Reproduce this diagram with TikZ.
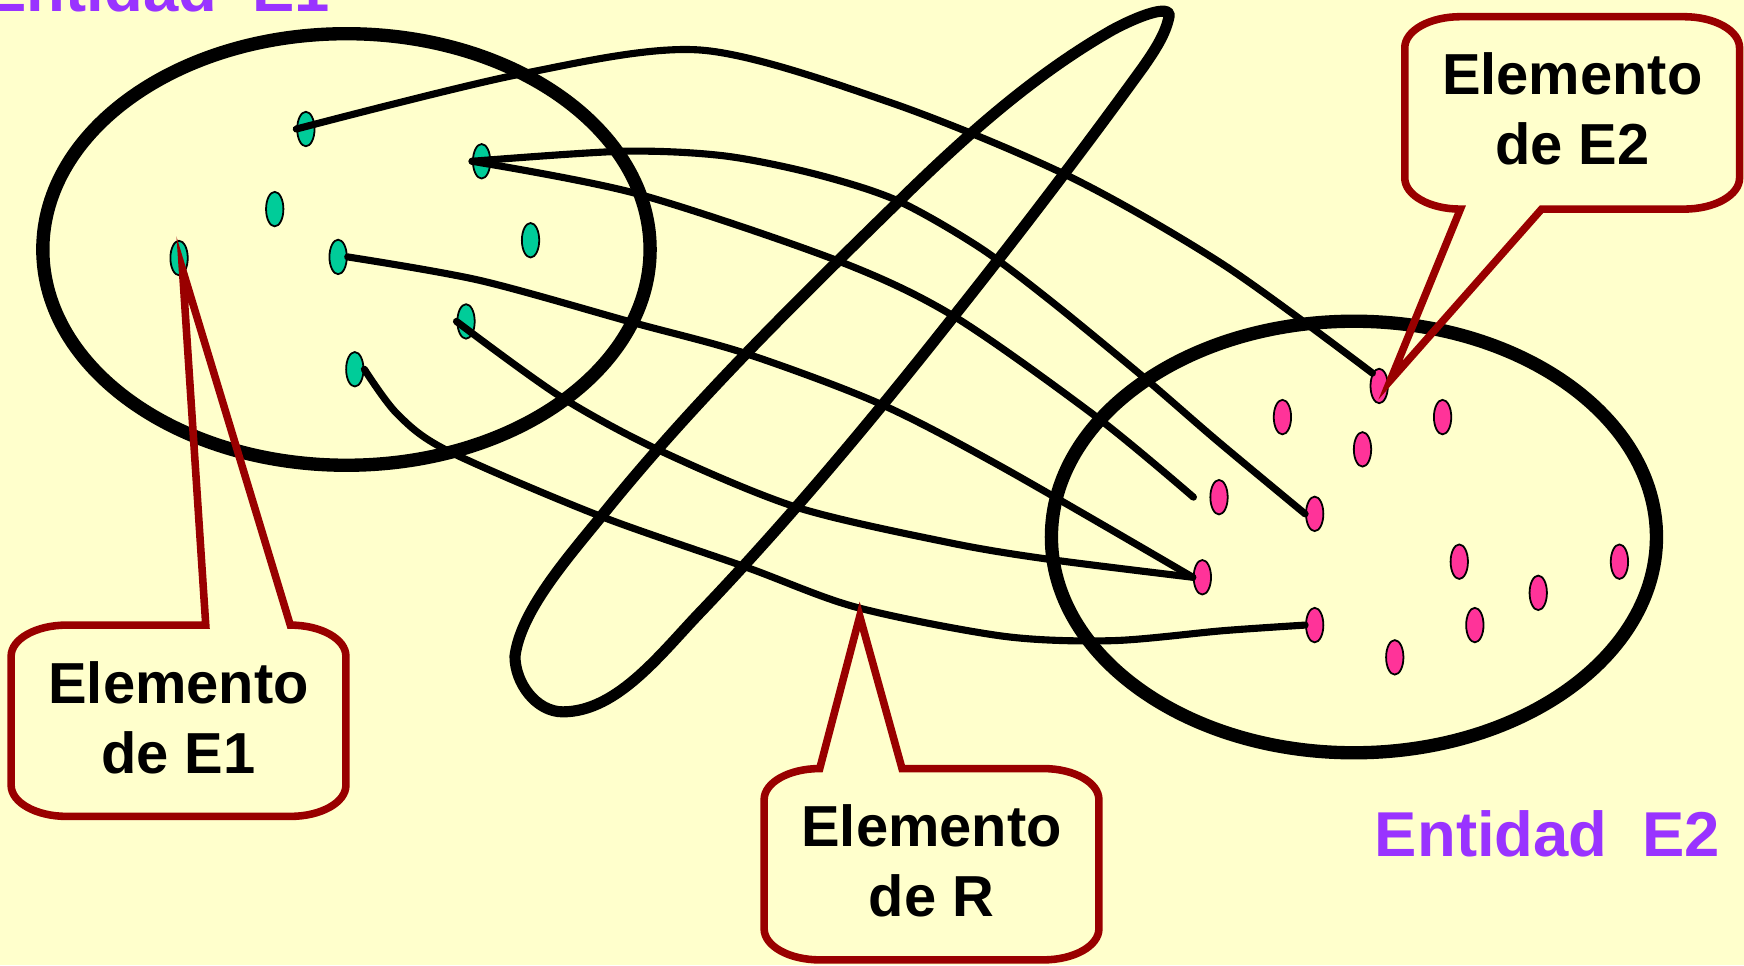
\documentclass[tikz,border=0pt]{standalone}
\usepackage{fontspec}
\setmainfont{Liberation Sans}
\usetikzlibrary{shapes.geometric}
\definecolor{paper}{HTML}{FFFFCC}
\definecolor{entpurple}{HTML}{9933FF}
\definecolor{callred}{HTML}{990000}
\definecolor{dotgreen}{HTML}{00CC99}
\definecolor{dotpink}{HTML}{FF3399}

\begin{document}
\begin{tikzpicture}[x=0.5pt,y=-0.5pt,line cap=round,
  setline/.style={line width=6pt},
  loopline/.style={line width=5pt},
  link/.style={line width=3.2pt},
  elem/.style={ellipse,draw=black,line width=0.8pt,inner sep=0pt,minimum width=7.8pt,minimum height=15.5pt},
  elemone/.style={elem,fill=dotgreen},
  elemtwo/.style={elem,fill=dotpink},
  bubble/.style={draw=callred,line width=3.4pt,line join=miter},
  bubbletext/.style={align=center,inner sep=0pt,font=\fontsize{26}{31.5}\selectfont\bfseries},
  entlabel/.style={inner sep=0pt,text=entpurple,font=\fontsize{28.5}{34}\selectfont\bfseries}]
\path[use as bounding box] (0,0) rectangle (1568,868);
\fill[paper] (0,0) rectangle (1568,868);
% the two entity sets
\draw[setline] (311.5,224.3) ellipse[x radius=273,y radius=194];
\draw[setline] (1217.3,482.8) ellipse[x radius=272,y radius=194];
% relationship set R
\draw[loopline] (506,640) .. controls (482,640) and (463,614) .. (463,590)
  .. controls (468,550) and (509,503) .. (540,465)
  .. controls (621,364) and (714,273) .. (806,183)
  .. controls (865,125) and (928,68) .. (1000,27)
  .. controls (1022,15) and (1053,3) .. (1051,15)
  .. controls (1048,31) and (1037,47) .. (1028,60)
  .. controls (973,136) and (915,212) .. (857,285)
  .. controls (786,375) and (711,465) .. (632,548)
  .. controls (596,585) and (556,640) .. cycle;
% elements of E1
\node[elemone] (g1) at (275,116) {};
\node[elemone] (g2) at (433,145) {};
\node[elemone] (g3) at (247,188) {};
\node[elemone] (g4) at (161,232) {};
\node[elemone] (g5) at (304,231) {};
\node[elemone] (g6) at (477,216) {};
\node[elemone] (g7) at (419,289) {};
\node[elemone] (g8) at (319,332) {};
% elements of E2
\node[elemtwo] (pa) at (1240,347) {};
\node[elemtwo] (pb) at (1153,375) {};
\node[elemtwo] (pc) at (1297,375) {};
\node[elemtwo] (pd) at (1225,404) {};
\node[elemtwo] (pe) at (1096,447) {};
\node[elemtwo] (pf) at (1182,462) {};
\node[elemtwo] (pg) at (1081,519) {};
\node[elemtwo] (ph) at (1312,505) {};
\node[elemtwo] (pi) at (1456,505) {};
\node[elemtwo] (pj) at (1383,533) {};
\node[elemtwo] (pk) at (1182,562) {};
\node[elemtwo] (pl) at (1326,562) {};
\node[elemtwo] (pm) at (1254,591) {};
% pairs of R
\coordinate (stubE) at (1073,447);
\draw[link] plot[smooth] coordinates {(g1.west) (466,67) (630,45) (800,92) (960,158) (1100,238) (pa.north west)};
\draw[link] plot[smooth] coordinates {(g2.west) (560,136) (650,140) (731,156) (806,180) (880,222) (944,270) (1028,339) (1094,396) (pf.west)};
\draw[link] plot[smooth] coordinates {(g2.west) (572,174) (752,234) (857,284) (986,375) (stubE)};
\draw[link] plot[smooth] coordinates {(g5.east) (431,252) (569,290) (671,318) (791,363) (901,420) (pg.west)};
\draw[link] plot[smooth] coordinates {(g7.west) (503,356) (593,405) (716,456) (854,488) (944,503) (pg.west)};
\draw[link] plot[smooth] coordinates {(g8.east) (357,372) (402,405) (537,463) (671,510) (770,546) (902,572) (1000,576) (1100,567) (pk.west)};
% callouts
\coordinate (tipE1) at (164,242);
\coordinate (tipE2) at (1250,342);
\coordinate (tipR) at (773,554);
\draw[bubble] (185,562) -- (tipE1) -- (261,562) .. controls (288.6,562) and (311,574.5) .. (311,590) -- (311,706) .. controls (311,721.5) and (288.6,734) .. (261,734) -- (60,734) .. controls (32.4,734) and (10,721.5) .. (10,706) -- (10,590) .. controls (10,574.5) and (32.4,562) .. (60,562) -- cycle;
\draw[bubble] (1313,188) -- (tipE2) -- (1386,188) -- (1514,188) .. controls (1541.6,188) and (1564,175.5) .. (1564,160) -- (1564,43) .. controls (1564,27.5) and (1541.6,15) .. (1514,15) -- (1313,15) .. controls (1285.4,15) and (1263,27.5) .. (1263,43) -- (1263,160) .. controls (1263,175.5) and (1285.4,188) .. (1313,188) -- cycle;
\draw[bubble] (737,691) -- (tipR) -- (811,691) -- (938,691) .. controls (965.6,691) and (988,703.5) .. (988,719) -- (988,835) .. controls (988,850.5) and (965.6,863) .. (938,863) -- (737,863) .. controls (709.4,863) and (687,850.5) .. (687,835) -- (687,719) .. controls (687,703.5) and (709.4,691) .. (737,691) -- cycle;
\node[bubbletext] (lblE1) at (160.5,645) {Elemento\\de E1};
\node[bubbletext] (lblE2) at (1413.5,98) {Elemento\\de E2};
\node[bubbletext] (lblR) at (837.5,774) {Elemento\\de R};
% entity names
\node[entlabel,anchor=base east] (entE1) at (297,10) {Entidad~~E1};
\node[entlabel,anchor=base east] (entE2) at (1547,770) {Entidad~~E2};
\end{tikzpicture}
\end{document}
